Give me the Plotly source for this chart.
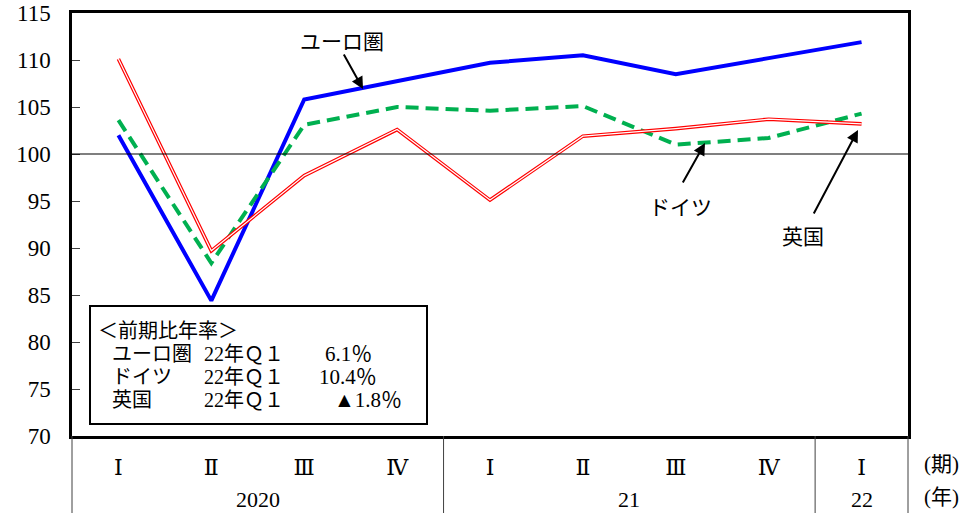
import plotly.graph_objects as go

quarters = ["Ⅰ", "Ⅱ", "Ⅲ", "Ⅳ", "Ⅰ", "Ⅱ", "Ⅲ", "Ⅳ", "Ⅰ"]
years = ["2020", "21", "22"]
year_centers = [1.5, 5.5, 8]
x_idx = list(range(len(quarters)))

euro = [102.0, 84.4, 105.8, 107.7, 109.7, 110.5, 108.5, 110.2, 111.9]
germany = [103.6, 88.4, 103.1, 105.0, 104.6, 105.1, 101.0, 101.7, 104.3]
uk = [110.1, 89.7, 97.7, 102.6, 95.1, 101.9, 102.7, 103.7, 103.2]

legend_title = "＜前期比年率＞"
legend_names = ["ユーロ圏", "ドイツ", "英国"]
legend_period = ["22年Ｑ１", "22年Ｑ１", "22年Ｑ１"]
legend_values = ["6.1％", "10.4％", "▲1.8％"]

FONT = "'Liberation Serif', 'DejaVu Serif', 'Noto Sans CJK JP', serif"

fig = go.Figure()
fig.add_trace(go.Scatter(x=x_idx, y=euro, mode="lines",
                         line=dict(color="#0000FF", width=4), showlegend=False))
fig.add_trace(go.Scatter(x=x_idx, y=germany, mode="lines",
                         line=dict(color="#00B050", width=4, dash="13px,7px"), showlegend=False))
fig.add_trace(go.Scatter(x=x_idx, y=uk, mode="lines",
                         line=dict(color="#FF0000", width=3.6), showlegend=False))
fig.add_trace(go.Scatter(x=x_idx, y=uk, mode="lines",
                         line=dict(color="#FFFFFF", width=1.2), showlegend=False))

# page-pixel geometry
W, H = 966, 513
L, R, T, B = 72, 908, 13, 436
pw, ph = R - L, B - T


def px(xp):
    return (xp - L) / pw


def py(yp):
    return (B - yp) / ph


shapes = []
# reference line at 100
shapes.append(dict(type="line", xref="paper", yref="y", x0=0, x1=1, y0=100, y1=100,
                   line=dict(color="black", width=1.2)))
# table separators below plot
sep_x = [0, 4 / 9, 8 / 9, 1]
for sx in sep_x:
    shapes.append(dict(type="line", xref="paper", yref="paper", x0=sx, x1=sx,
                       y0=py(H), y1=0, line=dict(color="#404040", width=1)))
# legend box
shapes.append(dict(type="rect", xref="paper", yref="paper",
                   x0=px(90), x1=px(427), y0=py(424), y1=py(306),
                   line=dict(color="black", width=2), fillcolor="white", layer="above"))

ann = []
# year labels
for yl, xc in zip(years, year_centers):
    ann.append(dict(x=xc, y=py(499), xref="x", yref="paper", text=yl, showarrow=False,
                    font=dict(family=FONT, size=22, color="black"), xanchor="center", yanchor="middle"))
ann.append(dict(x=px(941), y=py(464), xref="paper", yref="paper", text="(期)", showarrow=False,
                font=dict(family=FONT, size=21, color="black"), xanchor="center", yanchor="middle"))
ann.append(dict(x=px(941), y=py(497), xref="paper", yref="paper", text="(年)", showarrow=False,
                font=dict(family=FONT, size=21, color="black"), xanchor="center", yanchor="middle"))

# series labels
ann.append(dict(x=px(342), y=py(42), xref="paper", yref="paper", text="ユーロ圏", showarrow=False,
                font=dict(family=FONT, size=21, color="black"), xanchor="center", yanchor="middle"))
ann.append(dict(x=px(680), y=py(208), xref="paper", yref="paper", text="ドイツ", showarrow=False,
                font=dict(family=FONT, size=21, color="black"), xanchor="center", yanchor="middle"))
ann.append(dict(x=px(803), y=py(237), xref="paper", yref="paper", text="英国", showarrow=False,
                font=dict(family=FONT, size=21, color="black"), xanchor="center", yanchor="middle"))

# arrows
for hx, hy, ax_, ay_ in [(363, 89, -20, -36), (705, 143, -23, 41), (858, 130, -45, 85)]:
    ann.append(dict(x=px(hx), y=py(hy), xref="paper", yref="paper", text="", showarrow=True,
                    ax=ax_, ay=ay_, arrowhead=2, arrowsize=1.2, arrowwidth=2, arrowcolor="black",
                    standoff=0, startstandoff=0))

# legend box text
ann.append(dict(x=px(96), y=py(331), xref="paper", yref="paper", text=legend_title, showarrow=False,
                font=dict(family=FONT, size=20, color="black"), xanchor="left", yanchor="middle"))
row_y = [354, 377, 400]
val_right = [374, 379, 404]
for name, per, val, ry, vr in zip(legend_names, legend_period, legend_values, row_y, val_right):
    ann.append(dict(x=px(110), y=py(ry), xref="paper", yref="paper", text=name, showarrow=False,
                    font=dict(family=FONT, size=20, color="black"), xanchor="left", yanchor="middle"))
    ann.append(dict(x=px(202), y=py(ry), xref="paper", yref="paper", text=per, showarrow=False,
                    font=dict(family=FONT, size=20, color="black"), xanchor="left", yanchor="middle"))
    ann.append(dict(x=px(vr), y=py(ry), xref="paper", yref="paper",
                    text=val, showarrow=False,
                    font=dict(family=FONT, size=21, color="black"), xanchor="right", yanchor="middle"))

fig.update_layout(
    width=W, height=H,
    margin=dict(l=L, r=W - R, t=T, b=H - B, autoexpand=False),
    plot_bgcolor="white", paper_bgcolor="white",
    shapes=shapes, annotations=ann,
    xaxis=dict(range=[-0.5, 8.5], tickmode="array", tickvals=x_idx, ticktext=quarters,
               showgrid=False, zeroline=False, showline=True, mirror=True, linecolor="black",
               linewidth=2.5, ticks="", ticklabelstandoff=10, automargin=False,
               tickfont=dict(family=FONT, size=22, color="black")),
    yaxis=dict(range=[70, 115], dtick=5, tick0=70, showgrid=False, zeroline=False,
               showline=True, mirror=True, linecolor="black", linewidth=2.5,
               ticks="inside", ticklen=8, tickcolor="#404040", tickwidth=1,
               ticklabelstandoff=14, automargin=False, ticklabeloverflow="allow",
               tickfont=dict(family=FONT, size=23, color="black")),
)

fig.write_html("out.html", config={"displayModeBar": False},
               post_script="document.body.style.margin='0';document.body.style.overflow='hidden';")
